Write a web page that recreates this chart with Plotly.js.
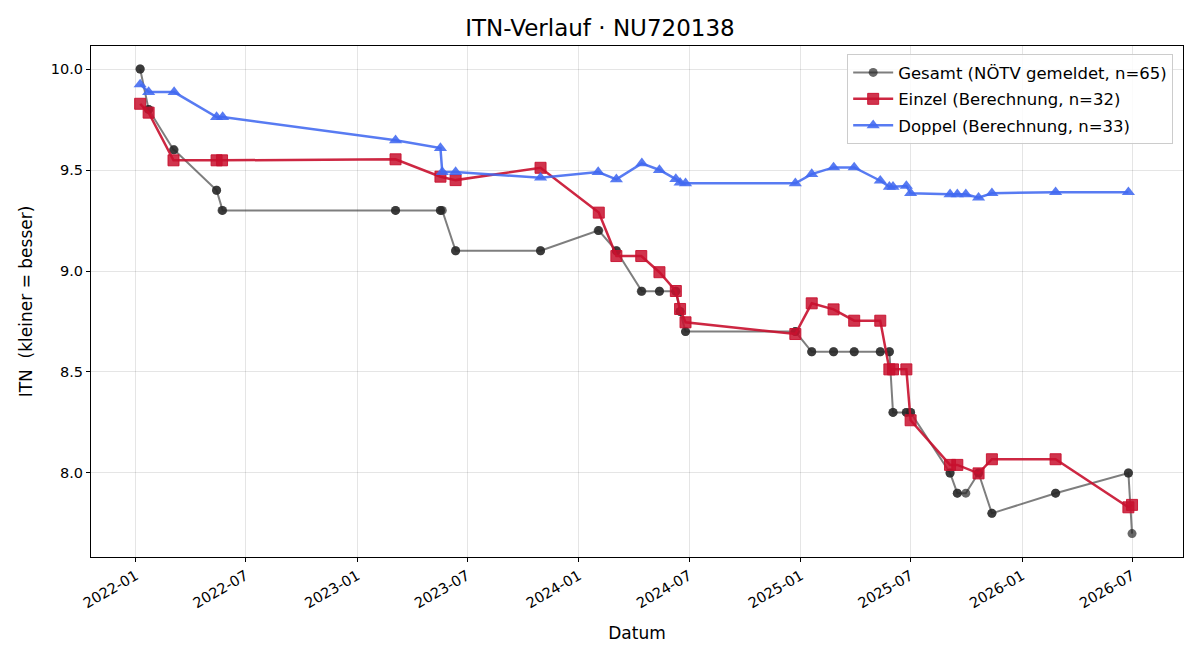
<!DOCTYPE html>
<html>
<head>
<meta charset="utf-8">
<script src="https://cdn.plot.ly/plotly-3.0.1.min.js"></script>
<style>html,body{margin:0;padding:0;background:#fff;}#chart{width:1200px;height:660px;}</style>
</head>
<body>
<div id="chart"></div>
<script>
// Gesamt (NÖTV gemeldet)
const gesamtDates = [
  '2022-01-08','2022-01-08','2022-01-22','2022-01-22','2022-03-04','2022-03-05',
  '2022-05-14','2022-05-14','2022-05-23','2022-05-24',
  '2023-03-05','2023-03-05','2023-05-18','2023-05-18','2023-05-21','2023-06-12','2023-06-12',
  '2023-10-30','2023-10-30',
  '2024-02-02','2024-02-03','2024-03-03','2024-03-03','2024-04-13','2024-04-14',
  '2024-05-13','2024-05-13','2024-06-09','2024-06-09','2024-06-16','2024-06-16',
  '2024-06-25','2024-06-25','2024-12-23','2024-12-23',
  '2025-01-19','2025-01-19','2025-02-24','2025-02-24','2025-03-30','2025-03-30',
  '2025-05-12','2025-05-12','2025-05-27','2025-05-27','2025-06-02','2025-06-02',
  '2025-06-24','2025-06-24','2025-07-01','2025-07-01','2025-09-04','2025-09-04',
  '2025-09-16','2025-09-16','2025-09-30','2025-10-21','2025-10-21','2025-11-12','2025-11-12',
  '2026-02-25','2026-02-25','2026-06-25','2026-06-25','2026-07-01'
];
const gesamtValues = [
  10.0,10.0,9.8,9.8,9.6,9.6,
  9.4,9.4,9.3,9.3,
  9.3,9.3,9.3,9.3,9.3,9.1,9.1,
  9.1,9.1,
  9.2,9.2,9.1,9.1,8.9,8.9,
  8.9,8.9,8.9,8.9,8.8,8.8,
  8.7,8.7,8.7,8.7,
  8.6,8.6,8.6,8.6,8.6,8.6,
  8.6,8.6,8.6,8.6,8.3,8.3,
  8.3,8.3,8.3,8.3,8.0,8.0,
  7.9,7.9,7.9,8.0,8.0,7.8,7.8,
  7.9,7.9,8.0,8.0,7.7
];

// Einzel (Berechnung)
const einzelDates = [
  '2022-01-08','2022-01-22','2022-03-04','2022-05-14','2022-05-23',
  '2023-03-05','2023-05-18','2023-06-12','2023-10-30',
  '2024-02-03','2024-03-03','2024-04-13','2024-05-13','2024-06-09','2024-06-16','2024-06-25','2024-12-23',
  '2025-01-19','2025-02-24','2025-03-30','2025-05-12','2025-05-27','2025-06-02','2025-06-24','2025-07-01',
  '2025-09-04','2025-09-16','2025-10-21','2025-11-12',
  '2026-02-25','2026-06-25','2026-07-01'
];
const einzelValues = [
  9.828,9.784,9.548,9.548,9.548,
  9.553,9.467,9.450,9.511,
  9.289,9.074,9.074,8.994,8.901,8.812,8.746,8.688,
  8.840,8.810,8.754,8.754,8.513,8.513,8.513,8.261,
  8.040,8.040,7.998,8.068,
  8.068,7.830,7.842
];

// Doppel (Berechnung)
const doppelDates = [
  '2022-01-08','2022-01-22','2022-03-05','2022-05-14','2022-05-24',
  '2023-03-05','2023-05-18','2023-05-21','2023-06-12','2023-10-30',
  '2024-02-02','2024-03-03','2024-04-14','2024-05-13','2024-06-09','2024-06-16','2024-06-25','2024-12-23',
  '2025-01-19','2025-02-24','2025-03-30','2025-05-12','2025-05-27','2025-06-02','2025-06-24','2025-07-01',
  '2025-09-04','2025-09-16','2025-09-30','2025-10-21','2025-11-12',
  '2026-02-25','2026-06-25'
];
const doppelValues = [
  9.924,9.886,9.886,9.762,9.762,
  9.647,9.609,9.490,9.490,9.462,
  9.490,9.454,9.533,9.500,9.455,9.437,9.434,9.434,
  9.480,9.513,9.513,9.447,9.417,9.417,9.421,9.385,
  9.380,9.380,9.380,9.363,9.385,
  9.390,9.390
];

const seriesNames = ['Gesamt (NÖTV gemeldet, n=65)','Einzel (Berechnung, n=32)','Doppel (Berechnung, n=33)'];
const yTicks = [8.0, 8.5, 9.0, 9.5, 10.0];

const FONT = 'DejaVu Sans, Liberation Sans, sans-serif';

const traces = [
  {
    x: gesamtDates, y: gesamtValues, name: seriesNames[0], legendgroup: 'g1',
    type: 'scatter', mode: 'lines+markers',
    line: {color: 'rgba(40,40,40,0.6)', width: 2},
    marker: {symbol: 'circle', size: 9, color: 'rgba(40,40,40,0.7)', line: {width: 0}},
    hoverinfo: 'skip'
  },
  {
    x: einzelDates, y: einzelValues, name: seriesNames[1], legendgroup: 'g2',
    type: 'scatter', mode: 'lines+markers',
    line: {color: 'rgba(200,16,46,0.9)', width: 2.5},
    marker: {symbol: 'square', size: 11, color: 'rgba(200,16,46,0.85)', line: {width: 1, color: 'rgba(200,16,46,0.9)'}},
    hoverinfo: 'skip'
  },
  {
    x: doppelDates, y: doppelValues, name: seriesNames[2], legendgroup: 'g3',
    type: 'scatter', mode: 'lines+markers',
    line: {color: 'rgba(65,105,240,0.88)', width: 2.5},
    marker: {symbol: 'triangle-up', size: 11.5, color: 'rgba(65,105,240,0.88)', line: {width: 0}},
    hoverinfo: 'skip'
  }
];

const layout = {
  width: 1200, height: 660,
  margin: {l: 91, r: 17, t: 46, b: 103},
  paper_bgcolor: '#ffffff', plot_bgcolor: '#ffffff',
  font: {family: FONT, size: 14, color: '#000'},
  title: {text: 'ITN-Verlauf · NU720138', font: {family: FONT, size: 23, color: '#000'}, x: 0.5, xanchor: 'center', y: 0.957, yanchor: 'middle'},
  showlegend: true,
  legend: {
    x: 0.991, y: 0.984, xanchor: 'right', yanchor: 'top',
    bgcolor: 'rgba(255,255,255,0.85)', bordercolor: '#cccccc', borderwidth: 1,
    font: {family: FONT, size: 16.5, color: '#000'},
    tracegroupgap: 2, itemwidth: 40
  },
  xaxis: {
    type: 'date',
    range: ['2021-10-19', '2026-09-23'],
    tick0: '2022-01-01', dtick: 'M6', tickformat: '%Y-%m',
    tickangle: -30,
    ticks: 'outside', ticklen: 4, tickcolor: '#000', tickwidth: 1,
    tickfont: {family: FONT, size: 14.5, color: '#000'},
    showgrid: true, gridcolor: 'rgba(0,0,0,0.1)', gridwidth: 1,
    showline: true, linecolor: '#000', linewidth: 1, mirror: true,
    zeroline: false,
    title: {text: 'Datum', font: {family: FONT, size: 17, color: '#000'}, standoff: 16}
  },
  yaxis: {
    range: [7.584, 10.114],
    tickvals: yTicks, tickformat: '.1f',
    ticks: 'outside', ticklen: 4, tickcolor: '#000', tickwidth: 1,
    tickfont: {family: FONT, size: 14.5, color: '#000'},
    showgrid: true, gridcolor: 'rgba(0,0,0,0.1)', gridwidth: 1,
    showline: true, linecolor: '#000', linewidth: 1, mirror: true,
    zeroline: false,
    title: {text: 'ITN  (kleiner = besser)', font: {family: FONT, size: 17, color: '#000'}, standoff: 13}
  }
};

Plotly.newPlot('chart', traces, layout, {displayModeBar: false, staticPlot: true});
</script>
</body>
</html>
